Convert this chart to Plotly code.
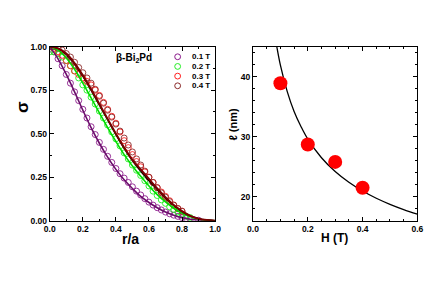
import plotly.graph_objects as go

# ---------------- data ----------------
r_data = [round(i * 0.025, 3) for i in range(37)]  # 0 .. 0.9

sig_01T = [1.00, 0.97, 0.93, 0.89, 0.84, 0.79, 0.74, 0.69, 0.64, 0.59, 0.54, 0.495,
           0.45, 0.41, 0.37, 0.335, 0.30, 0.27, 0.245, 0.22, 0.195, 0.17, 0.148, 0.127,
           0.107, 0.09, 0.075, 0.062, 0.05, 0.04, 0.032, 0.025, 0.018, 0.013, 0.009,
           0.005, 0.003]
sig_02T = [0.97, 0.97, 0.96, 0.94, 0.92, 0.89, 0.86, 0.82, 0.78, 0.75, 0.71, 0.67,
           0.63, 0.59, 0.55, 0.51, 0.47, 0.43, 0.39, 0.355, 0.32, 0.29, 0.26, 0.23,
           0.20, 0.17, 0.145, 0.12, 0.10, 0.08, 0.065, 0.05, 0.037, 0.026, 0.018]
sig_03T = [0.99, 0.97, 0.95, 0.92, 0.89, 0.86, 0.84, 0.82, 0.80, 0.78, 0.75, 0.72,
           0.68, 0.64, 0.60, 0.56, 0.51, 0.46, 0.42, 0.38, 0.34, 0.31, 0.28, 0.25,
           0.22, 0.19, 0.165, 0.14, 0.115, 0.09, 0.07, 0.055]
sig_04T = [1.00, 1.00, 0.99, 0.98, 0.96, 0.94, 0.91, 0.88, 0.85, 0.82, 0.79, 0.755,
           0.715, 0.675, 0.635, 0.595, 0.555, 0.515, 0.475, 0.435, 0.395, 0.355, 0.32,
           0.285, 0.25, 0.22, 0.19, 0.16, 0.135, 0.11, 0.09, 0.07, 0.055]

r_fit = [round(i * 0.05, 2) for i in range(21)]  # 0 .. 1.0
fit_01T = [1.0, 0.93, 0.84, 0.74, 0.635, 0.535, 0.445, 0.365, 0.295, 0.235, 0.185,
           0.14, 0.105, 0.075, 0.05, 0.032, 0.018, 0.009, 0.004, 0.001, 0.0]
fit_02T = [1.0, 0.98, 0.935, 0.87, 0.79, 0.705, 0.62, 0.535, 0.455, 0.38, 0.315,
           0.255, 0.20, 0.15, 0.108, 0.072, 0.044, 0.023, 0.01, 0.003, 0.0]
fit_black = [1.0, 0.99, 0.955, 0.90, 0.83, 0.75, 0.665, 0.58, 0.495, 0.415, 0.345,
             0.285, 0.23, 0.18, 0.13, 0.088, 0.053, 0.028, 0.012, 0.004, 0.0]
fit_04T = [1.0, 0.99, 0.96, 0.905, 0.835, 0.755, 0.67, 0.585, 0.50, 0.42, 0.35,
           0.295, 0.24, 0.185, 0.135, 0.09, 0.055, 0.028, 0.012, 0.004, 0.0]

H_pts = [0.1, 0.2, 0.3, 0.4]
ell_pts = [38.9, 28.7, 25.8, 21.5]

H_fit = [0.08, 0.086, 0.1, 0.125, 0.15, 0.175, 0.2, 0.25, 0.3, 0.35, 0.4, 0.45, 0.5, 0.55, 0.6]
ell_fit = [46.8, 45.2, 41.9, 37.5, 34.2, 31.7, 29.6, 26.5, 24.2, 22.4, 20.95, 19.75,
           18.74, 17.87, 17.1]

legend_labels = ["0.1 T", "0.2 T", "0.3 T", "0.4 T"]
COL = ["#8B1A8B", "#22EE22", "#FF2020", "#8B2A2A"]

# ---------------- figure ----------------
W, Hh = 436, 308
FONT = "Liberation Sans"

def px_x(p):
    return p / W

def px_y(p):
    return 1 - p / Hh

fig = go.Figure()

series = [(sig_01T, COL[0]), (sig_02T, COL[1]), (sig_03T, COL[2]), (sig_04T, COL[3])]
starts = [0, 0, 1, 0]
for (s, c), st in zip(series, starts):
    fig.add_trace(go.Scatter(
        x=r_data[st:st + len(s)], y=s, mode="markers",
        marker=dict(symbol="circle-open", size=6, color=c, line=dict(width=0.9, color=c)),
        xaxis="x", yaxis="y", showlegend=False))

for f, c, w in [(fit_01T, "#6A0D6A", 1.6), (fit_02T, "#00DD00", 1.6),
                (fit_black, "black", 1.4), (fit_04T, "#7A0000", 2.0)]:
    fig.add_trace(go.Scatter(x=r_fit, y=f, mode="lines", line=dict(color=c, width=w, shape="spline"),
                             xaxis="x", yaxis="y", showlegend=False))

fig.add_trace(go.Scatter(x=H_fit, y=ell_fit, mode="lines", line=dict(color="black", width=1.3, shape="spline"),
                         xaxis="x2", yaxis="y2", showlegend=False))
fig.add_trace(go.Scatter(x=H_pts, y=ell_pts, mode="markers",
                         marker=dict(size=14, color="#FF0000", line=dict(width=0)),
                         xaxis="x2", yaxis="y2", showlegend=False))

tickfont = dict(family=FONT, size=8.5, color="black", weight="bold")

def axis(**kw):
    d = dict(showline=True, linecolor="black", linewidth=1, mirror="ticks",
             ticks="inside", ticklen=4, tickwidth=1, tickcolor="black",
             showgrid=False, zeroline=False, tickfont=tickfont,
             minor=dict(ticks="inside", ticklen=2, tickwidth=1, tickcolor="black", showgrid=False))
    d.update(kw)
    return d

ytop, ybot = px_y(43), px_y(223)
fig.update_layout(
    width=W, height=Hh, margin=dict(l=0, r=0, t=0, b=0),
    paper_bgcolor="white", plot_bgcolor="white",
    xaxis=axis(domain=[px_x(45), px_x(215)], range=[0, 1], dtick=0.2, tickformat=".1f",
               minor=dict(dtick=0.1, ticks="inside", ticklen=2, tickcolor="black"), anchor="y"),
    yaxis=axis(domain=[ybot, ytop], range=[0, 1], dtick=0.25, tickformat=".2f",
               minor=dict(dtick=0.125, ticks="inside", ticklen=2, tickcolor="black"), anchor="x"),
    xaxis2=axis(domain=[px_x(254), px_x(423)], range=[0, 0.6], dtick=0.2, tickformat=".1f",
                minor=dict(dtick=0.05, ticks="inside", ticklen=2, tickcolor="black"), anchor="y2"),
    yaxis2=axis(domain=[ybot, ytop], range=[16, 45], dtick=10,
                minor=dict(dtick=2, ticks="inside", ticklen=2, tickcolor="black"), anchor="x2"),
)

ann = []
def txt(x, y, s, size, angle=0, xanchor="center", weight="bold"):
    ann.append(dict(x=px_x(x), y=px_y(y), xref="paper", yref="paper", text=s, showarrow=False,
                    textangle=angle, xanchor=xanchor, yanchor="middle",
                    font=dict(family=FONT, size=size, color="black", weight=weight)))

txt(128, 242, "r/a", 14)
txt(17, 106, "σ", 17, angle=-90)
txt(338, 241, "H (T)", 12)
txt(233, 123, "ℓ (nm)", 11, angle=-90)
txt(111, 55, "β-Bi<sub>2</sub>Pd", 10, xanchor="left")

rows = [53.5, 63.5, 73.5, 83.5]
shapes = []
for lab, c, yy in zip(legend_labels, COL, rows):
    txt(189, yy, lab, 8, xanchor="left")
    shapes.append(dict(type="circle", xref="paper", yref="paper",
                       x0=px_x(173.5), x1=px_x(179.5), y0=px_y(yy + 3), y1=px_y(yy - 3),
                       line=dict(color=c, width=1)))

fig.update_layout(annotations=ann, shapes=shapes)
fig.write_html("out.html", config={"displayModeBar": False},
               post_script="document.body.style.margin='0';document.body.style.padding='0';")
